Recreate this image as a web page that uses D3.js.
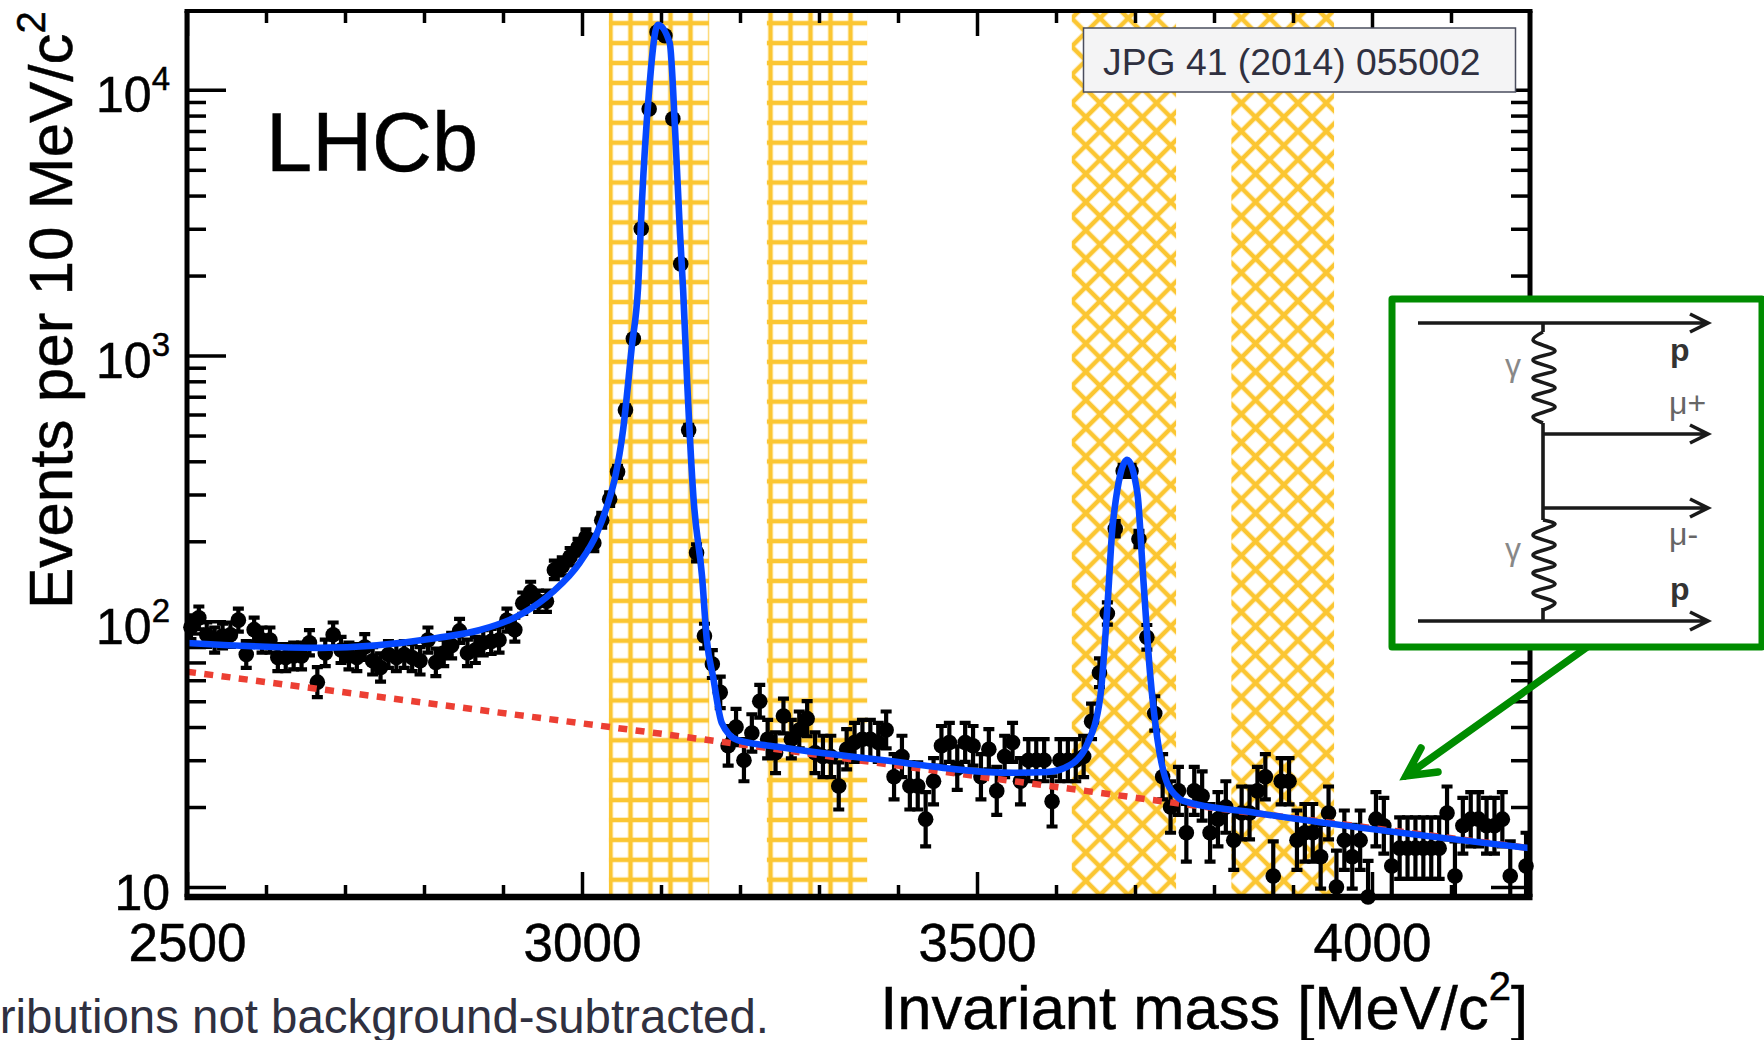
<!DOCTYPE html>
<html lang="en">
<head>
<meta charset="UTF-8">
<title>LHCb invariant mass</title>
<script src="https://d3js.org/d3.v7.min.js"></script>
<style>
  body{ margin:0; padding:0; background:#fff; overflow:hidden; }
  svg{ display:block; }
  text{ font-family:"Liberation Sans",Arial,sans-serif; }
  .axis path.domain{ display:none; }
  .axis line{ stroke:#000; }
  .axis text{ font-size:53px; fill:#000; stroke:#000; stroke-width:0.5; }
  .major line{ stroke-width:3.5; }
  .minor line{ stroke-width:3.5; }
  .heavy{ stroke:#000; stroke-width:0.5; }
</style>
</head>
<body>
<div id="chart"></div>
<script>

// bin centres, 10 MeV wide
let massBins = d3.range(2505, 4200, 10);

// events per bin (0 = no marker visible)
let counts = [
  95,103,89,85,88,89,101,75,93,85,
  85,73,73,74,74,83,59,76,89,78,
  74,73,80,71,67,75,73,75,73,71,
  85,70,76,81,92,76,78,83,84,85,
  101,93,117,129,119,119,156,161,175,190,
  207,197,240,288,365,624,1156,3000,8470,16500,
  15970,7780,2213,525,181,88,69,54,34,40,
  30,38,50,36,32,44,36,39,43,32,
  31,31,24,33,35,36,36,35,39,26,
  31,24,24,18,25,34,35,28,35,34,
  26,33,23,31,35,25,30,30,30,21,
  30,30,30,31,42,64,107,223,368,368,
  204,87,45,26,20,23,16,23,22,16,
  18,20,15,19,19,23,26,11,25,25,
  15,16,16,13,19,10,15,13,15,9,
  18,17,12,14,14,14,14,14,14,19,
  11,17,18,18,17,17,18,11,0,12
];

// fit curve
let fitMass = [2500,2668,2816,2871,2925,2963,2997,3019,3033,3042,3052,3063,3071,3076,3084,3096,3111,3118,3124,3128,3133,3141,3152,3158,3166,3177,3197,3251,3377,3546,3589,3622,3639,3656,3665,3672,3690,3703,3710,3719,3728,3738,3751,3761,3854,4200];
let fitValue = [82.8,79.4,86.5,92.7,107,129,166,215,279,349,525,1079,1811,3855,9161,17580,15030,6890,2900,1766,809,294,147,85,61.7,41.4,35.7,33.6,30.1,26.9,27.1,29.3,34.2,51.9,113,234,405,304,152,64,36.7,25.9,22.2,21.1,19,14];

// background
let bgMass = [2500,3128,3647,3740,4200];
let bgValue = [64.6,36.8,22.8,20.9,14];

// hatched mass windows
let gridBands = [[3034,3161],[3234,3361]];
let crossBands = [[3620,3752],[3822,3952]];

let xMajorTicks = [2500,3000,3500,4000];
let xMinorTicks = [2600,2700,2800,2900,3100,3200,3300,3400,3600,3700,3800,3900,4100];
let yMajorTicks = [10,100,1000,10000];
let yMinorTicks = [20,30,40,50,60,70,80,90,200,300,400,500,600,700,800,900,2000,3000,4000,5000,6000,7000,8000,9000];
let yExponents = {10:"", 100:"2", 1000:"3", 10000:"4"};

let width = 1764, height = 1040;
let left = 187, right = 1530, top_ = 11, bottom = 897;
let hatchColor = "#fbc632", green = "#008c00";

let svg = d3.select("#chart").append("svg")
  .attr("width", width)
  .attr("height", height);

let x = d3.scaleLinear().domain([2500, 4200]).range([left, right]);
let y = d3.scaleLog().domain([9.17, 19800]).range([bottom, top_]).clamp(true);

// hatch patterns
let defs = svg.append("defs");
let grid = defs.append("pattern").attr("id", "gridHatch")
  .attr("patternUnits", "userSpaceOnUse")
  .attr("width", 20).attr("height", 19.92)
  .attr("patternTransform", "translate(0.5,-6.7)");
grid.append("line").attr("x1", 10).attr("x2", 10).attr("y1", 0).attr("y2", 19.92)
  .attr("stroke", hatchColor).attr("stroke-width", 4.6);
grid.append("line").attr("x1", 0).attr("x2", 20).attr("y1", 9.96).attr("y2", 9.96)
  .attr("stroke", hatchColor).attr("stroke-width", 4.6);

let cross = defs.append("pattern").attr("id", "crossHatch")
  .attr("patternUnits", "userSpaceOnUse")
  .attr("width", 20).attr("height", 20)
  .attr("patternTransform", "translate(1100,88.9) rotate(45)");
cross.append("line").attr("x1", 10).attr("x2", 10).attr("y1", 0).attr("y2", 20)
  .attr("stroke", hatchColor).attr("stroke-width", 4.6);
cross.append("line").attr("x1", 0).attr("x2", 20).attr("y1", 10).attr("y2", 10)
  .attr("stroke", hatchColor).attr("stroke-width", 4.6);

svg.selectAll(".gridBand").data(gridBands).join("rect")
  .attr("class", "gridBand")
  .attr("x", d => x(d[0])).attr("width", d => x(d[1]) - x(d[0]))
  .attr("y", top_).attr("height", bottom - top_)
  .attr("fill", "url(#gridHatch)");

svg.selectAll(".crossBand").data(crossBands).join("rect")
  .attr("class", "crossBand")
  .attr("x", d => x(d[0])).attr("width", d => x(d[1]) - x(d[0]))
  .attr("y", top_).attr("height", bottom - top_)
  .attr("fill", "url(#crossHatch)");

// ticks on all four sides, pointing inwards
function addAxis(axis, tx, ty, cls){
  return svg.append("g").attr("class", "axis " + cls)
    .attr("transform", "translate(" + tx + "," + ty + ")")
    .call(axis);
}
addAxis(d3.axisBottom(x).tickValues(xMajorTicks).tickSize(-25).tickPadding(64).tickFormat(d3.format("d")), 0, bottom, "major")
  .selectAll("text").attr("dy", 0);
addAxis(d3.axisBottom(x).tickValues(xMinorTicks).tickSize(-12).tickFormat(""), 0, bottom, "minor");
addAxis(d3.axisTop(x).tickValues(xMajorTicks).tickSize(-25).tickFormat(""), 0, top_, "major");
addAxis(d3.axisTop(x).tickValues(xMinorTicks).tickSize(-12).tickFormat(""), 0, top_, "minor");

let yLabelAxis = addAxis(d3.axisLeft(y).tickValues(yMajorTicks).tickSize(-39).tickPadding(17).tickFormat(d => "10"), left, 0, "major");
yLabelAxis.selectAll("text").attr("dy", 0).attr("y", 22).attr("font-size", 50).style("font-size", "50px")
  .each(function(d){
    if(yExponents[d]){
      d3.select(this).append("tspan").attr("dy", -22).style("font-size", "33px").text(yExponents[d]);
    }
  });
addAxis(d3.axisLeft(y).tickValues(yMinorTicks).tickSize(-19).tickFormat(""), left, 0, "minor");
addAxis(d3.axisRight(y).tickValues(yMajorTicks).tickSize(-39).tickFormat(""), right, 0, "major");
addAxis(d3.axisRight(y).tickValues(yMinorTicks).tickSize(-19).tickFormat(""), right, 0, "minor");

// data: Poisson error bars, the picture shows them asymmetric
let points = massBins.map((m, i) => ({mass: m, n: counts[i]})).filter(d => d.n > 0);
let errLow = n => Math.sqrt(n + 0.25) - 0.5;
let errHigh = n => Math.sqrt(n + 0.25) + 0.5;

let bars = svg.append("g").attr("fill", "none").attr("stroke", "#000").attr("stroke-width", 4.2);
bars.selectAll("path").data(points).join("path")
  .attr("d", d => {
    let px = x(d.mass), hi = y(d.n + errHigh(d.n)), lo = y(d.n - errLow(d.n));
    return "M" + (px - 5.5) + "," + hi + "H" + (px + 5.5) + "M" + px + "," + hi + "V" + lo + "M" + (px - 5.5) + "," + lo + "H" + (px + 5.5);
  });

svg.append("g").selectAll("circle").data(points).join("circle")
  .attr("cx", d => x(d.mass))
  .attr("cy", d => y(d.n))
  .attr("r", 7.8)
  .attr("fill", "#000");

let curve = d3.line().x(d => x(d[0])).y(d => y(d[1]));

svg.append("path")
  .attr("d", curve(d3.zip(bgMass, bgValue)))
  .attr("fill", "none").attr("stroke", "#ec3f33")
  .attr("stroke-width", 6.5).attr("stroke-dasharray", "9 8.4");

svg.append("path")
  .attr("d", curve.curve(d3.curveMonotoneX)(d3.zip(fitMass, fitValue)))
  .attr("fill", "none").attr("stroke", "#0548ff")
  .attr("stroke-width", 6.6).attr("stroke-linejoin", "round");

// frame
svg.append("path")
  .attr("d", "M" + left + "," + bottom + "V" + top_)
  .attr("stroke", "#000").attr("stroke-width", 5);
svg.append("path")
  .attr("d", "M" + right + "," + bottom + "V" + top_)
  .attr("stroke", "#000").attr("stroke-width", 5);
svg.append("path")
  .attr("d", "M" + (left - 2.5) + "," + top_ + "H" + (right + 2.5))
  .attr("stroke", "#000").attr("stroke-width", 4);
svg.append("path")
  .attr("d", "M" + (left - 2.5) + "," + bottom + "H" + (right + 2.5))
  .attr("stroke", "#000").attr("stroke-width", 6.5);

// labels
svg.append("text").attr("class", "heavy").attr("x", 266).attr("y", 171).attr("font-size", 83).text("LHCb");

let yTitle = svg.append("text").attr("class", "heavy")
  .attr("transform", "translate(72,609) rotate(-90)")
  .attr("font-size", 62)
  .text("Events per 10 MeV/c");
yTitle.append("tspan").attr("dy", -27).attr("font-size", 40).text("2");

let xTitle = svg.append("text").attr("class", "heavy")
  .attr("x", 1528).attr("y", 1029).attr("text-anchor", "end")
  .attr("font-size", 61.5)
  .text("Invariant mass [MeV/c");
xTitle.append("tspan").attr("dy", -29).attr("font-size", 40).text("2");
xTitle.append("tspan").attr("dy", 29).text("]");

svg.append("text")
  .attr("x", 769).attr("y", 1033).attr("text-anchor", "end")
  .attr("font-size", 47.4).attr("fill", "#2f3040")
  .text("ributions not background-subtracted.");

// journal reference box
svg.append("rect")
  .attr("x", 1083.5).attr("y", 28).attr("width", 432).attr("height", 64)
  .attr("fill", "#f4f4f5").attr("stroke", "#4a4d5e").attr("stroke-width", 1.5);
svg.append("text")
  .attr("x", 1103).attr("y", 75).attr("font-size", 37.3).attr("fill", "#2f3040")
  .text("JPG 41 (2014) 055002");

// green pointer and Feynman diagram inset
svg.append("path")
  .attr("d", "M1590,645L1406,776M1421,748L1406,776L1438,772")
  .attr("fill", "none").attr("stroke", green).attr("stroke-width", 7.5)
  .attr("stroke-linecap", "round").attr("stroke-linejoin", "miter");

svg.append("rect")
  .attr("x", 1392).attr("y", 299).attr("width", 370).attr("height", 348)
  .attr("fill", "#fff").attr("stroke", green).attr("stroke-width", 7)
  .attr("stroke-linejoin", "round");

let fermions = [[1418,323],[1543,434],[1543,508],[1418,621]];
let dia = svg.append("g").attr("fill", "none").attr("stroke", "#1a1a1a").attr("stroke-width", 3.6);
fermions.forEach(f => {
  dia.append("path").attr("d", "M" + f[0] + "," + f[1] + "H1708M1690," + (f[1] - 9) + "L1708," + f[1] + "L1690," + (f[1] + 9));
});
dia.append("path").attr("d", "M1543,323V332M1543,423V520M1543,608V621");

let wave = d3.line().curve(d3.curveCatmullRom);
let topWave = [[1543,332],[1533,340],[1555,351],[1533,360],[1555,370],[1533,378],[1555,388],[1533,397],[1555,407],[1533,417],[1543,423]];
let lowWave = [[1543,520],[1555,524],[1533,535],[1555,545],[1533,555],[1555,565],[1533,573],[1555,584],[1533,593],[1555,603],[1543,610]];
dia.append("path").attr("d", wave(topWave));
dia.append("path").attr("d", wave(lowWave));

svg.append("text").attr("x", 1670).attr("y", 361).attr("font-size", 32).attr("font-weight", "bold").attr("fill", "#333").text("p");
svg.append("text").attr("x", 1670).attr("y", 600).attr("font-size", 32).attr("font-weight", "bold").attr("fill", "#333").text("p");
svg.append("text").attr("x", 1669).attr("y", 414).attr("font-size", 32).attr("fill", "#666").text("μ+");
svg.append("text").attr("x", 1669).attr("y", 545).attr("font-size", 32).attr("fill", "#666").text("μ-");
svg.append("text").attr("x", 1505).attr("y", 376).attr("font-size", 32).attr("fill", "#888").text("γ");
svg.append("text").attr("x", 1505).attr("y", 560).attr("font-size", 32).attr("fill", "#888").text("γ");

</script>
</body>
</html>
